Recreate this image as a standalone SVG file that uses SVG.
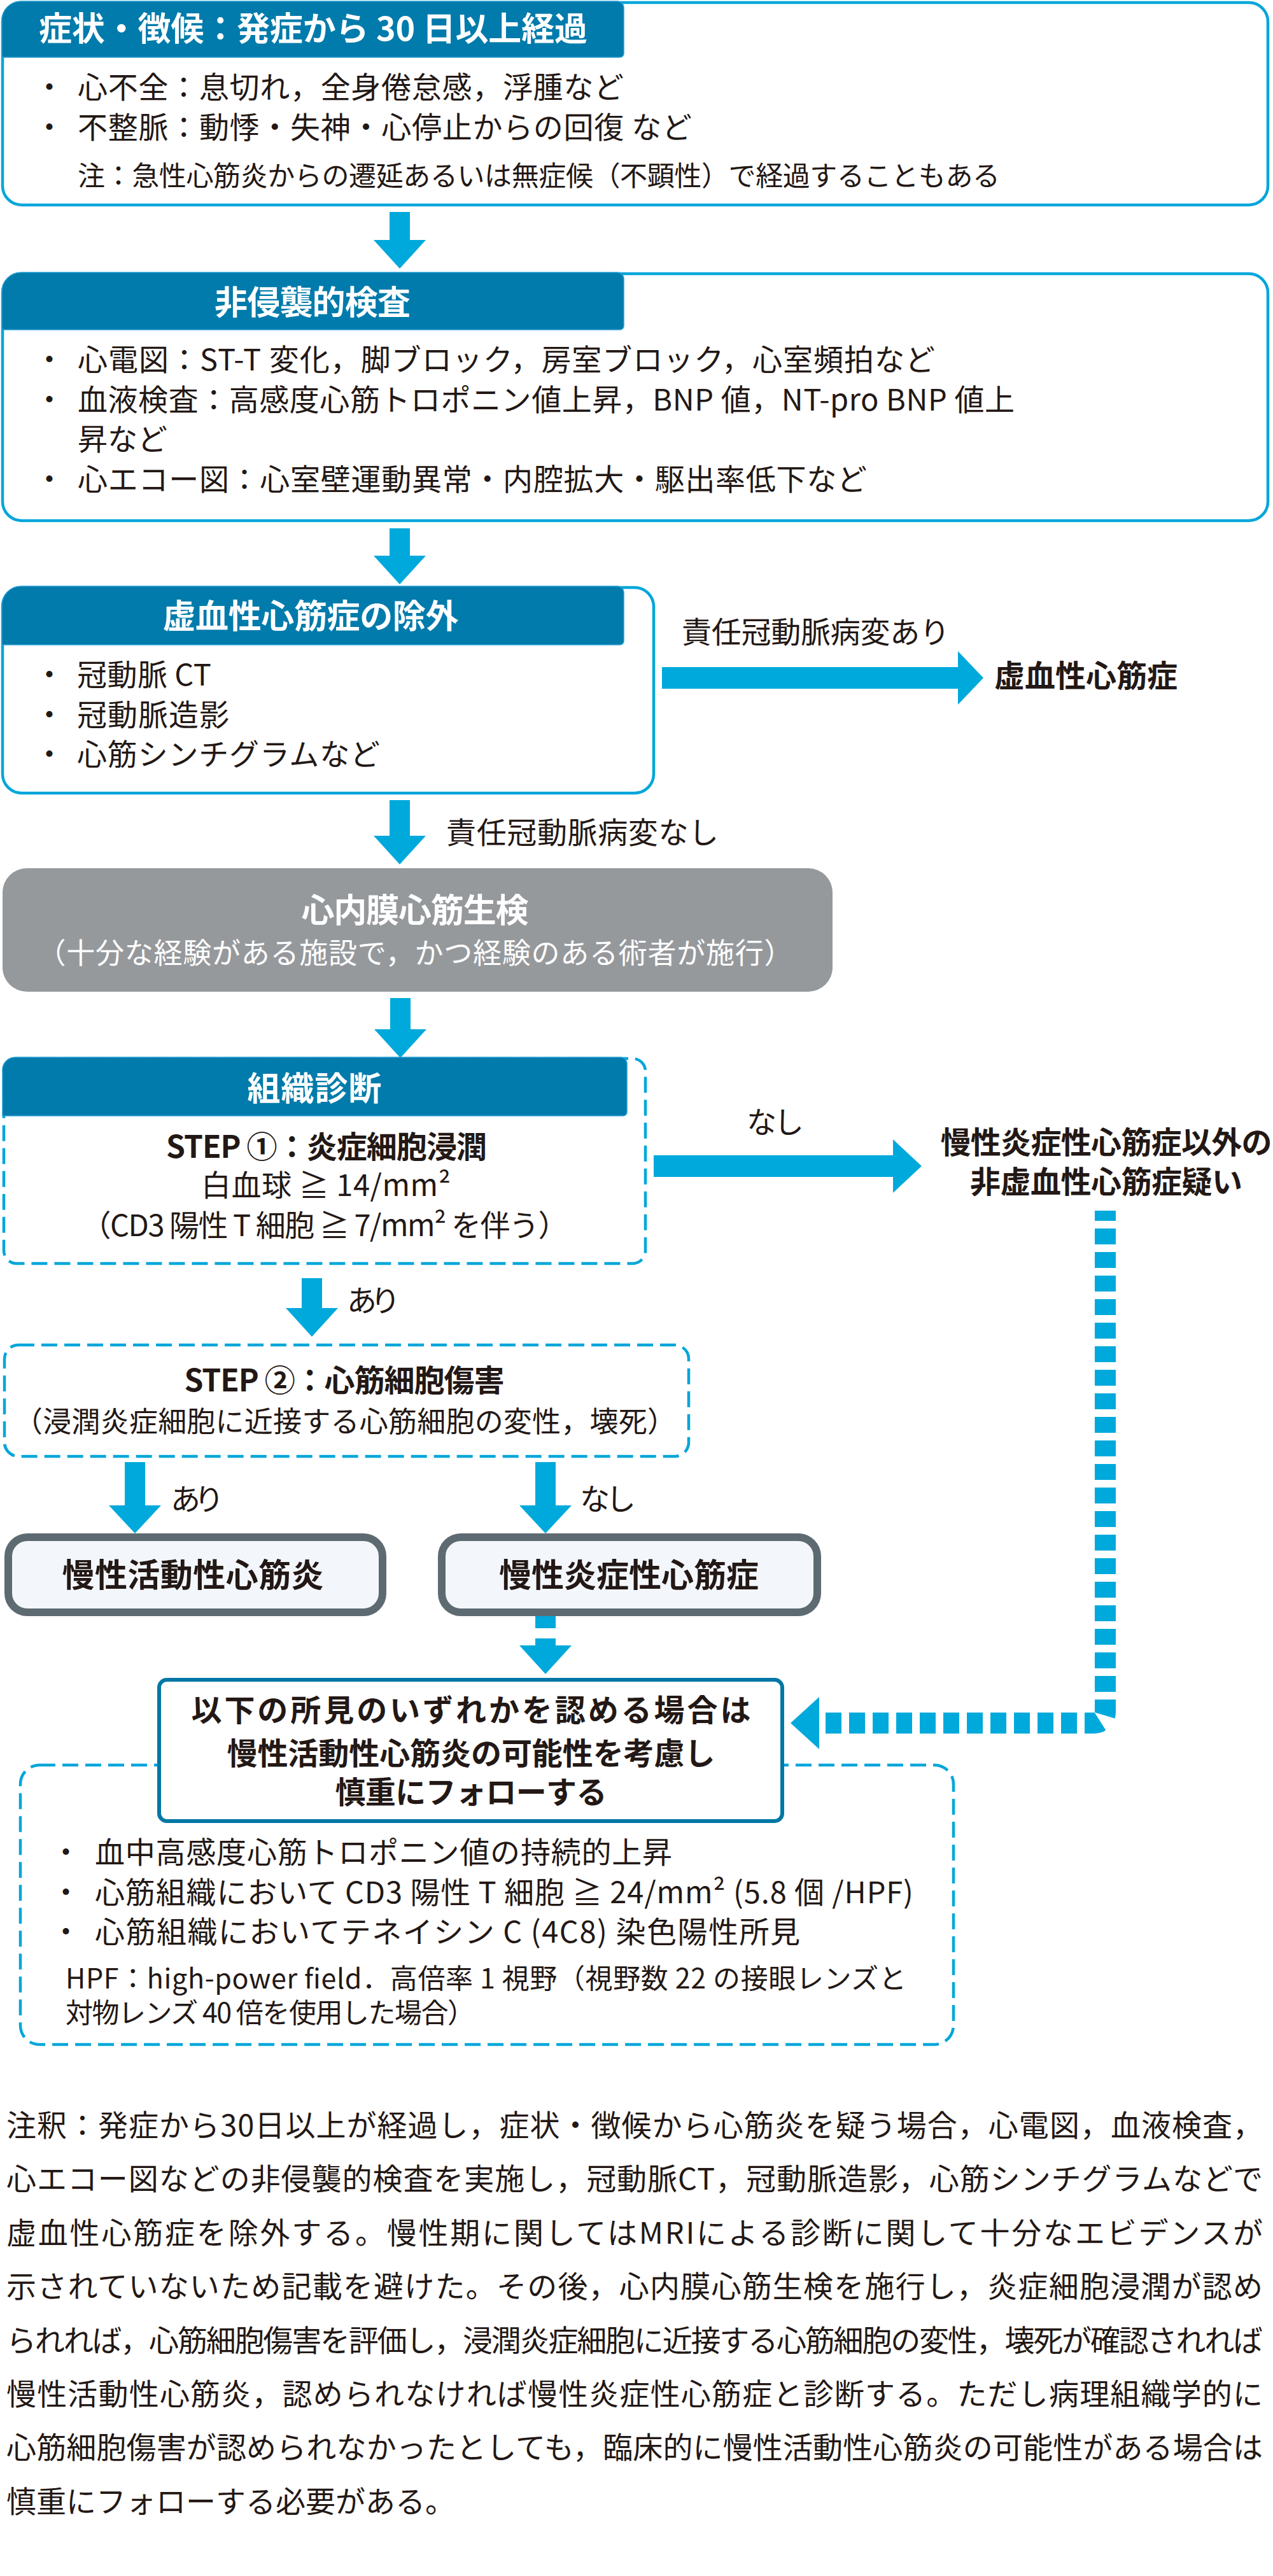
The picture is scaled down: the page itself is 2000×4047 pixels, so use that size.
<svg xmlns="http://www.w3.org/2000/svg" width="2000" height="4047" viewBox="0 0 2000 4047">
<style>
text{font-family:"Noto Sans CJK JP","Noto Sans",sans-serif;fill:#231815}
.hd{font-size:52px;font-weight:700;fill:#fff}
.b{font-size:47px}
.s{font-size:43px}
.bb{font-size:48px;font-weight:700}
.wt{fill:#fff}
.box{fill:#fff;stroke:#00a6da;stroke-width:4.5}
.hdr{fill:#007bab;stroke:#2a9fd3;stroke-width:1.5}
.dash{fill:#fff;stroke:#00a6da;stroke-width:4.5;stroke-dasharray:25 11}
.res{fill:#f3f7fb;stroke:#5e6a71;stroke-width:12}
.arr{fill:#00a9db}
</style>
<rect width="2000" height="4047" fill="#fff"/>

<g id="connectors">
  <polygon class="arr" points="612,333 644,333 644,377 669,377 628,422 587,377 612,377"/>
  <polygon class="arr" points="612,830 644,830 644,873 669,873 628,918 587,873 612,873"/>
  <polygon class="arr" points="1040,1048 1505,1048 1505,1023 1545,1065 1505,1107 1505,1082 1040,1082"/>
  <polygon class="arr" points="612,1257 644,1257 644,1313 669,1313 628,1358 587,1313 612,1313"/>
  <polygon class="arr" points="613,1568 645,1568 645,1617 670,1617 629,1662 588,1617 613,1617"/>
  <polygon class="arr" points="1027,1815 1403,1815 1403,1790 1448,1832 1403,1874 1403,1849 1027,1849"/>
  <polygon class="arr" points="474,2008 506,2008 506,2055 531,2055 490,2100 449,2055 474,2055"/>
  <polygon class="arr" points="196,2297 228,2297 228,2365 253,2365 212,2409 171,2365 196,2365"/>
  <polygon class="arr" points="841,2297 873,2297 873,2365 898,2365 857,2409 816,2365 841,2365"/>
  <rect class="arr" x="841" y="2539" width="32" height="19"/>
  <polygon class="arr" points="841,2574 873,2574 873,2585 898,2585 857,2630 816,2585 841,2585"/>
  <path d="M1736.5,1902 V2690 A17,17 0 0 1 1719.5,2707 H1287" fill="none" stroke="#00a9db" stroke-width="33" stroke-dasharray="25 12" stroke-dashoffset="9"/>
  <polygon class="arr" points="1287,2666 1287,2748 1242,2707"/>
  <text class="b" x="1071" y="1010" textLength="421" lengthAdjust="spacing">責任冠動脈病変あり</text>
  <text class="b" x="701" y="1325" textLength="428" lengthAdjust="spacing">責任冠動脈病変なし</text>
  <text class="b" x="1173" y="1780" textLength="90" lengthAdjust="spacing">なし</text>
  <text class="b" x="545" y="2060" textLength="84" lengthAdjust="spacing">あり</text>
  <text class="b" x="268" y="2372" textLength="84" lengthAdjust="spacing">あり</text>
  <text class="b" x="911" y="2372" textLength="88" lengthAdjust="spacing">なし</text>
</g>

<g id="node-symptoms">
  <rect class="box" x="4" y="4" width="1988" height="318" rx="30"/>
  <path class="hdr" d="M3,90 V32 A30,30 0 0 1 33,2 H970 A10,10 0 0 1 980,12 V84 A6,6 0 0 1 974,90 Z"/>
  <text class="hd" x="61" y="64" textLength="862" lengthAdjust="spacing">症状・徴候：発症から 30 日以上経過</text>
  <text class="b" x="54" y="154">・</text>
  <text class="b" x="122" y="154" textLength="858" lengthAdjust="spacing">心不全：息切れ，全身倦怠感，浮腫など</text>
  <text class="b" x="54" y="217">・</text>
  <text class="b" x="122" y="217" textLength="965" lengthAdjust="spacing">不整脈：動悸・失神・心停止からの回復 など</text>
  <text class="s" x="122" y="292" textLength="1449" lengthAdjust="spacing">注：急性心筋炎からの遷延あるいは無症候（不顕性）で経過することもある</text>
</g>

<g id="node-noninvasive">
  <rect class="box" x="4" y="430" width="1988" height="388" rx="30"/>
  <path class="hdr" d="M3,518 V458 A30,30 0 0 1 33,428 H970 A10,10 0 0 1 980,438 V512 A6,6 0 0 1 974,518 Z"/>
  <text class="hd" x="491" y="494" text-anchor="middle" textLength="308" lengthAdjust="spacing">非侵襲的検査</text>
  <text class="b" x="54" y="582">・</text>
  <text class="b" x="122" y="582" textLength="1347" lengthAdjust="spacing">心電図：ST-T 変化，脚ブロック，房室ブロック，心室頻拍など</text>
  <text class="b" x="54" y="645">・</text>
  <text class="b" x="122" y="645" textLength="1472" lengthAdjust="spacing">血液検査：高感度心筋トロポニン値上昇，BNP 値，NT-pro BNP 値上</text>
  <text class="b" x="122" y="707">昇など</text>
  <text class="b" x="54" y="770">・</text>
  <text class="b" x="122" y="770" textLength="1240" lengthAdjust="spacing">心エコー図：心室壁運動異常・内腔拡大・駆出率低下など</text>
</g>

<g id="node-ischemic-exclusion">
  <rect class="box" x="4" y="923" width="1023" height="323" rx="30"/>
  <path class="hdr" d="M3,1013 V951 A30,30 0 0 1 33,921 H970 A10,10 0 0 1 980,931 V1007 A6,6 0 0 1 974,1013 Z"/>
  <text class="hd" x="488" y="987" text-anchor="middle" textLength="465" lengthAdjust="spacing">虚血性心筋症の除外</text>
  <text class="b" x="54" y="1077">・</text>
  <text class="b" x="121" y="1077" textLength="211" lengthAdjust="spacing">冠動脈 CT</text>
  <text class="b" x="54" y="1140">・</text>
  <text class="b" x="121" y="1140" textLength="239" lengthAdjust="spacing">冠動脈造影</text>
  <text class="b" x="54" y="1202">・</text>
  <text class="b" x="121" y="1202" textLength="476" lengthAdjust="spacing">心筋シンチグラムなど</text>
</g>

<g id="node-ischemic">
  <text class="bb" x="1562" y="1079" textLength="288" lengthAdjust="spacing">虚血性心筋症</text>
</g>

<g id="node-biopsy">
  <rect x="4" y="1364" width="1304" height="194" rx="38" fill="#96999c"/>
  <text class="hd" x="652" y="1449" text-anchor="middle" textLength="357" lengthAdjust="spacing">心内膜心筋生検</text>
  <text class="b wt" x="652" y="1514" text-anchor="middle" textLength="1187" lengthAdjust="spacing" style="font-size:45px">（十分な経験がある施設で，かつ経験のある術者が施行）</text>
</g>

<g id="node-histology">
  <rect class="dash" x="6" y="1663" width="1008" height="322" rx="20"/>
  <path class="hdr" d="M4,1753 V1683 A20,20 0 0 1 24,1661 H975 A10,10 0 0 1 985,1671 V1747 A6,6 0 0 1 979,1753 Z"/>
  <text class="hd" x="494" y="1729" text-anchor="middle" textLength="211" lengthAdjust="spacing">組織診断</text>
  <text class="bb" x="513" y="1819" text-anchor="middle" textLength="504" lengthAdjust="spacing">STEP ①：炎症細胞浸潤</text>
  <text class="b" x="512" y="1879" text-anchor="middle" textLength="392" lengthAdjust="spacing">白血球 ≧ 14/mm²</text>
  <text class="b" x="510" y="1942" text-anchor="middle" textLength="765" lengthAdjust="spacing">（CD3 陽性 T 細胞 ≧ 7/mm² を伴う）</text>
</g>

<g id="node-non-ischemic">
  <text class="bb" x="1738" y="1812" text-anchor="middle" textLength="521" lengthAdjust="spacing">慢性炎症性心筋症以外の</text>
  <text class="bb" x="1738" y="1874" text-anchor="middle" textLength="428" lengthAdjust="spacing">非虚血性心筋症疑い</text>
</g>

<g id="node-step2">
  <rect class="dash" x="7" y="2113" width="1075" height="175" rx="22"/>
  <text class="bb" x="541" y="2186" text-anchor="middle" textLength="503" lengthAdjust="spacing">STEP ②：心筋細胞傷害</text>
  <text class="b" x="542" y="2250" text-anchor="middle" textLength="1040" lengthAdjust="spacing" style="font-size:45px">（浸潤炎症細胞に近接する心筋細胞の変性，壊死）</text>
</g>

<g id="node-active">
  <rect class="res" x="13" y="2415" width="588" height="118" rx="30"/>
  <text class="bb" x="303" y="2493" text-anchor="middle" textLength="411" lengthAdjust="spacing" style="font-size:51px">慢性活動性心筋炎</text>
</g>

<g id="node-inflammatory">
  <rect class="res" x="694" y="2415" width="590" height="118" rx="30"/>
  <text class="bb" x="988" y="2493" text-anchor="middle" textLength="408" lengthAdjust="spacing" style="font-size:51px">慢性炎症性心筋症</text>
</g>

<g id="node-findings">
  <rect class="dash" x="32" y="2773" width="1466" height="439" rx="30"/>
  <text class="b" x="80" y="2927">・</text>
  <text class="b" x="149" y="2927" textLength="907" lengthAdjust="spacing">血中高感度心筋トロポニン値の持続的上昇</text>
  <text class="b" x="80" y="2990">・</text>
  <text class="b" x="149" y="2990" textLength="1286" lengthAdjust="spacing">心筋組織において CD3 陽性 T 細胞 ≧ 24/mm² (5.8 個 /HPF)</text>
  <text class="b" x="80" y="3052">・</text>
  <text class="b" x="149" y="3052" textLength="1108" lengthAdjust="spacing">心筋組織においてテネイシン C (4C8) 染色陽性所見</text>
  <text class="s" x="103" y="3124" textLength="1321" lengthAdjust="spacing">HPF：high-power field．高倍率 1 視野（視野数 22 の接眼レンズと</text>
  <text class="s" x="103" y="3178" textLength="643" lengthAdjust="spacing">対物レンズ 40 倍を使用した場合）</text>
</g>

<g id="node-follow">
  <rect x="250" y="2639" width="979" height="222" rx="12" fill="#fff" stroke="#0077a6" stroke-width="6"/>
  <text class="bb" x="740" y="2704" text-anchor="middle" textLength="879" lengthAdjust="spacing">以下の所見のいずれかを認める場合は</text>
  <text class="bb" x="740" y="2772" text-anchor="middle" textLength="767" lengthAdjust="spacing">慢性活動性心筋炎の可能性を考慮し</text>
  <text class="bb" x="740" y="2833" text-anchor="middle" textLength="427" lengthAdjust="spacing">慎重にフォローする</text>
</g>

<g id="note">
  <text class="b" x="10" y="3356" textLength="1974" lengthAdjust="spacing">注釈：発症から30日以上が経過し，症状・徴候から心筋炎を疑う場合，心電図，血液検査，</text>
  <text class="b" x="10" y="3440" textLength="1974" lengthAdjust="spacing">心エコー図などの非侵襲的検査を実施し，冠動脈CT，冠動脈造影，心筋シンチグラムなどで</text>
  <text class="b" x="10" y="3525" textLength="1974" lengthAdjust="spacing">虚血性心筋症を除外する。慢性期に関してはMRIによる診断に関して十分なエビデンスが</text>
  <text class="b" x="10" y="3609" textLength="1974" lengthAdjust="spacing">示されていないため記載を避けた。その後，心内膜心筋生検を施行し，炎症細胞浸潤が認め</text>
  <text class="b" x="10" y="3694" textLength="1974" lengthAdjust="spacing">られれば，心筋細胞傷害を評価し，浸潤炎症細胞に近接する心筋細胞の変性，壊死が確認されれば</text>
  <text class="b" x="10" y="3778" textLength="1974" lengthAdjust="spacing">慢性活動性心筋炎，認められなければ慢性炎症性心筋症と診断する。ただし病理組織学的に</text>
  <text class="b" x="10" y="3862" textLength="1974" lengthAdjust="spacing">心筋細胞傷害が認められなかったとしても，臨床的に慢性活動性心筋炎の可能性がある場合は</text>
  <text class="b" x="10" y="3947">慎重にフォローする必要がある。</text>
</g>
</svg>
